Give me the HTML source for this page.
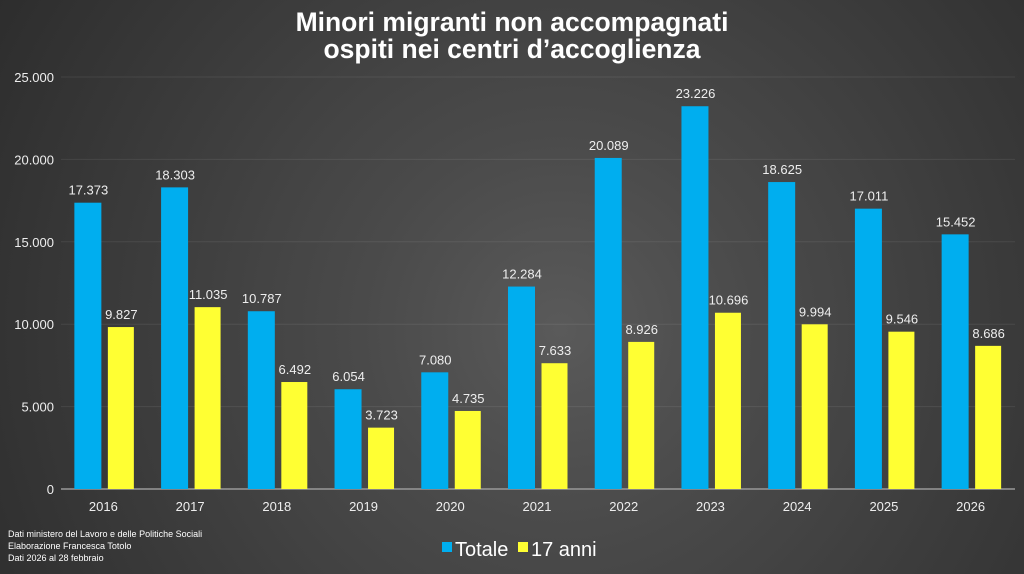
<!DOCTYPE html>
<html><head><meta charset="utf-8"><style>
html,body{margin:0;padding:0;}
body{width:1024px;height:574px;overflow:hidden;font-family:"Liberation Sans",sans-serif;
background:radial-gradient(circle at 560px 330px,#5a5a5a 0px,#505050 120px,#4a4a4a 200px,#444 300px,#3c3c3c 420px,#333 560px,#262626 760px);}
svg{position:absolute;left:0;top:0;}
</style></head><body>
<svg id="chart" width="1024" height="574">
<text x="512" y="31" text-anchor="middle" fill="#fff" font-size="26.5" font-weight="bold">Minori migranti non accompagnati</text>
<text x="512" y="58" text-anchor="middle" fill="#fff" font-size="26.5" font-weight="bold">ospiti nei centri d’accoglienza</text>
<g id="grid"></g><g id="bars"></g><g id="labels"></g>
<text x="8" y="537" fill="#fff" font-size="9">Dati ministero del Lavoro e delle Politiche Sociali</text>
<text x="8" y="549" fill="#fff" font-size="9">Elaborazione Francesca Totolo</text>
<text x="8" y="561" fill="#fff" font-size="9">Dati 2026 al 28 febbraio</text>
<g>
<rect x="442" y="542" width="10" height="10" fill="#00AEEF"/>
<text x="455" y="556" fill="#fff" font-size="20">Totale</text>
<rect x="518" y="542" width="10" height="10" fill="#FFFF33"/>
<text x="531" y="556" fill="#fff" font-size="20">17 anni</text>
</g>
</svg>
<script>
const categories=["2016","2017","2018","2019","2020","2021","2022","2023","2024","2025","2026"];
const totale=[17373,18303,10787,6054,7080,12284,20089,23226,18625,17011,15452];
const anni17=[9827,11035,6492,3723,4735,7633,8926,10696,9994,9546,8686];
const yTicks=[0,5000,10000,15000,20000,25000];
const NS="http://www.w3.org/2000/svg";
const x0=61,x1=1015,y0=489,yTop=77,yMax=25000;
const band=(x1-x0)/categories.length;
function y(v){return y0-(v/yMax)*(y0-yTop);}
function xc(i){return x0+band*(i+0.5);}
function fmt(v){return v.toString().replace(/\B(?=(\d{3})+(?!\d))/g,".");}
function mk(tag,attrs,parent,txt){const e=document.createElementNS(NS,tag);for(const k in attrs)e.setAttribute(k,attrs[k]);if(txt!==undefined)e.textContent=txt;parent.appendChild(e);return e;}
const grid=document.getElementById('grid'),bars=document.getElementById('bars'),labels=document.getElementById('labels');
yTicks.forEach(t=>{
  if(t>0){const l=mk('line',{x1:x0,x2:x1,y1:y(t),y2:y(t),stroke:'#ffffff','stroke-opacity':0.08,'stroke-width':1},grid);
  
  }
  const tx=mk('text',{x:54,y:y(t)+5,'text-anchor':'end',fill:'#eee','font-size':13},grid,fmt(t));
  
  
});
const ax=mk('line',{x1:x0,x2:x1,y1:y0,y2:y0,stroke:'#999','stroke-width':1.5},grid);


categories.forEach((c,i)=>{
  const cx=xc(i);
  const b=mk('rect',{x:cx-30,y:y(totale[i]),width:27,height:y0-y(totale[i]),fill:'#00AEEF'},bars);
  
  
  const b2=mk('rect',{x:cx+3.5,y:y(anni17[i]),width:26,height:y0-y(anni17[i]),fill:'#FFFF33'},bars);
  
  
  const l1=mk('text',{x:cx-16,y:y(totale[i])-8,'text-anchor':'middle',fill:'#eee','font-size':13},labels,fmt(totale[i]));
  
  
  const l2=mk('text',{x:cx+17,y:y(anni17[i])-8,'text-anchor':'middle',fill:'#eee','font-size':13},labels,fmt(anni17[i]));
  
  
  const xl=mk('text',{x:cx-1,y:511,'text-anchor':'middle',fill:'#eee','font-size':13},labels,c);
  
  
});
</script>
</body></html>
